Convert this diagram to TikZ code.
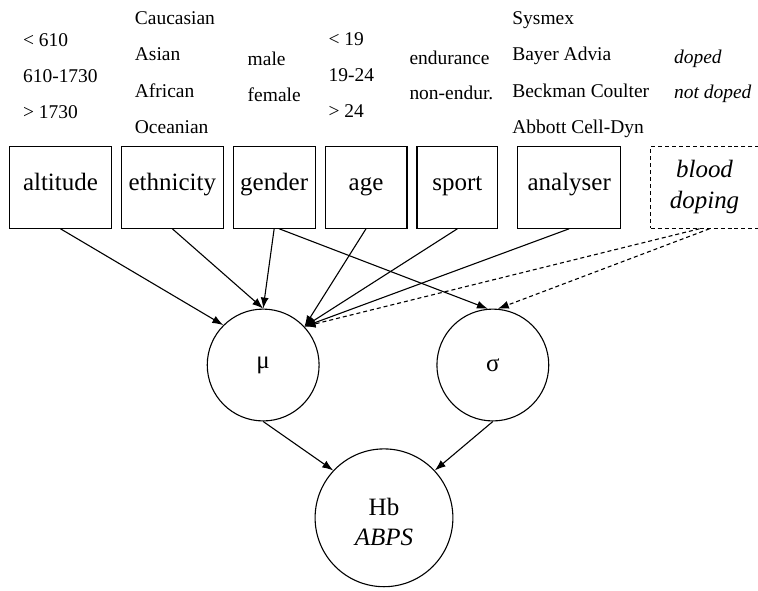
\documentclass[tikz,border=0pt]{standalone}
\usepackage{fontspec}
\setmainfont{Liberation Serif}
\usetikzlibrary{arrows.meta}

\tikzset{
  box/.style={draw, minimum height=82pt, inner sep=0pt, font=\fontsize{25}{31}\selectfont, text height=0.75em, text depth=0.1em},
  dbox/.style={draw, dashed, dash pattern=on 4pt off 3pt, minimum height=82pt, inner sep=0pt, align=center, font=\fontsize{25}{31}\selectfont\itshape},
  lab/.style={anchor=base west, inner sep=0pt, font=\fontsize{19.5}{24}\selectfont},
  var/.style={draw, circle, inner sep=0pt, align=center, font=\fontsize{25}{30}\selectfont},
}

\begin{document}
\begin{tikzpicture}[x=1pt, y=-1pt, line width=1.1pt, >={Latex[length=11pt,width=8pt]}]
\draw[white,fill=white] (0,0) rectangle (758,590);
\useasboundingbox (0,0) rectangle (758,590);

% levels of each factor
\foreach \t [count=\i] in {{< 610}, {610-1730}, {> 1730}}
	\node[lab] (alt\i) at (22, 10+36*\i) {\t};
\foreach \t [count=\i] in {Caucasian, Asian, African, Oceanian}
	\node[lab] (eth\i) at (134, -13+36.6*\i) {\t};
\foreach \t [count=\i] in {male, female}
	\node[lab] (gen\i) at (247, 29+36*\i) {\t};
\foreach \t [count=\i] in {{< 19}, {19-24}, {> 24}}
	\node[lab] (age\i) at (328, 9+36*\i) {\t};
\foreach \t [count=\i] in {endurance, non-endur.}
	\node[lab] (spo\i) at (409, 29+35*\i) {\t};
\foreach \t [count=\i] in {Sysmex, Bayer Advia, Beckman Coulter, Abbott Cell-Dyn}
	\node[lab] (ana\i) at (512, -13+36.6*\i) {\t};
\foreach \t [count=\i] in {doped, not doped}
	\node[lab, font=\fontsize{19.5}{24}\selectfont\itshape] (dop\i) at (674, 28+35*\i) {\t};

% factors
\node[box, minimum width=102pt] (altitude) at (60,187) {altitude};
\node[box, minimum width=102pt] (ethnicity) at (172,187) {ethnicity};
\node[box, minimum width=82pt] (gender) at (274,187) {gender};
\node[box, minimum width=82pt] (age) at (366,187) {age};
\node[box, minimum width=81pt] (sport) at (457.5,187) {sport};
\node[box, minimum width=103pt] (analyser) at (569.5,187) {analyser};
\node[dbox, minimum width=108pt] (doping) at (705,187) {blood\\doping};

% parameters
\node[var, minimum size=112pt] (mu) at (263,365) {μ};
\node[var, minimum size=112pt] (sigma) at (493,365) {σ};
\node[var, minimum size=138pt] (hb) at (384,518) {\rule{0pt}{26pt}Hb\\\textit{ABPS}};

\draw[->] (altitude.south) -- (mu.135);
\draw[->] (ethnicity.south) -- (mu.north);
\draw[->] (gender.south) -- (mu.north);
\draw[->] ([xshift=5pt]gender.south) -- (sigma.95);
\draw[->] (age.south) -- (mu.43);
\draw[->] (sport.south) -- (mu.43);
\draw[->] (analyser.south) -- (mu.43);
\draw[->, dashed, dash pattern=on 4pt off 3pt] ([xshift=-5pt]doping.south) -- (mu.43);
\draw[->, dashed, dash pattern=on 4pt off 3pt] ([xshift=5pt]doping.south) -- (sigma.85);

\draw[->] (mu.south) -- (hb.137);
\draw[->] (sigma.south) -- (hb.43);
\end{tikzpicture}
\end{document}
